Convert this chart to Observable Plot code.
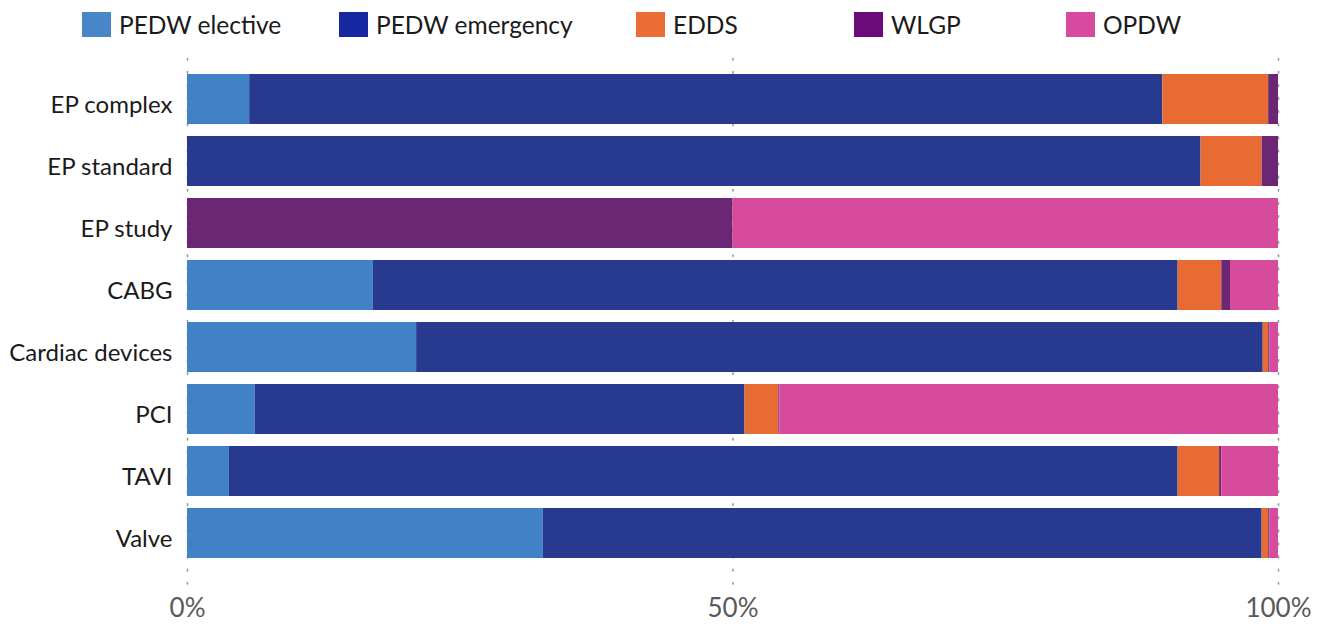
<!DOCTYPE html>
<html>
<head>
<meta charset="utf-8">
<script src="https://cdn.jsdelivr.net/npm/d3@7"></script>
<script src="https://cdn.jsdelivr.net/npm/@observablehq/plot@0.6"></script>
<style>
  body { margin: 0; background: #fff; font-family: Lato, "Noto Sans", sans-serif; }
  #legend { position: relative; width: 1329px; height: 48px; }
  .item { position: absolute; top: 12px; height: 25px; display: flex; align-items: center; font-size: 24.5px; color: #1a1a1a; white-space: nowrap; }
  .sw { width: 29px; height: 25px; margin-right: 8px; box-sizing: border-box; }
  svg { display: block; }
</style>
</head>
<body>
<div id="legend"></div>
<div id="chart"></div>
<script>
const categories = ["EP complex", "EP standard", "EP study", "CABG", "Cardiac devices", "PCI", "TAVI", "Valve"];
const series = ["PEDW elective", "PEDW emergency", "EDDS", "WLGP", "OPDW"];
const barColors = ["#4181c5", "#283a8f", "#e86b33", "#6b2674", "#d64b9b"];
const legendColors = ["#4787c8", "#1627a0", "#ec6c35", "#6c0a7c", "#d84aa0"];
const legendX = [82, 339, 636, 854, 1066];
// percentage shares per category, in series order
const pedwElective  = [5.7, 0.0, 0.0, 17.0, 21.0, 6.2, 3.8, 32.6];
const pedwEmergency = [83.7, 92.9, 0.0, 73.8, 77.6, 44.9, 87.0, 65.9];
const edds          = [9.7, 5.6, 0.0, 4.0, 0.5, 3.1, 3.8, 0.6];
const wlgp          = [0.9, 1.5, 50.0, 0.8, 0.1, 0.1, 0.2, 0.1];
const opdw          = [0.0, 0.0, 50.0, 4.4, 0.8, 45.7, 5.2, 0.8];
const xTicks = [0, 0.5, 1];
const xTickLabels = ["0%", "50%", "100%"];

const valuesBySeries = [pedwElective, pedwEmergency, edds, wlgp, opdw];
const data = [];
categories.forEach((c, i) => {
  series.forEach((s, j) => data.push({category: c, series: s, value: valuesBySeries[j][i]}));
});

const legend = document.getElementById("legend");
series.forEach((s, j) => {
  const it = document.createElement("div");
  it.className = "item";
  it.style.left = legendX[j] + "px";
  it.innerHTML = `<div class="sw" style="background:${legendColors[j]}"></div><span>${s}</span>`;
  legend.appendChild(it);
});

const chart = Plot.plot({
  width: 1329,
  height: 576,
  marginLeft: 187,
  marginRight: 51,
  marginTop: 12.5,
  marginBottom: 52,
  style: {fontFamily: "Lato, 'Noto Sans', sans-serif", background: "#fff"},
  x: {domain: [0, 1], label: null},
  y: {domain: categories, padding: 0.2, label: null},
  color: {domain: series, range: barColors},
  marks: [
    Plot.ruleX(xTicks, {stroke: "#9a9a9a", strokeWidth: 1.6, strokeDasharray: "1.6,11.5", strokeLinecap: "round", insetTop: -2, insetBottom: -13}),
    Plot.barX(data, Plot.stackX({
      x: "value", y: "category", fill: "series", order: series, offset: "normalize"
    })),
    Plot.axisY({tickSize: 0, tickPadding: 15, fontSize: 24, fill: "#1a1a1a", dy: 6}),
    Plot.axisX({ticks: xTicks, tickFormat: d => xTickLabels[xTicks.indexOf(d)], tickSize: 0, tickPadding: 26, fontSize: 26, fill: "#595959"})
  ]
});
document.getElementById("chart").appendChild(chart);
</script>
</body>
</html>
